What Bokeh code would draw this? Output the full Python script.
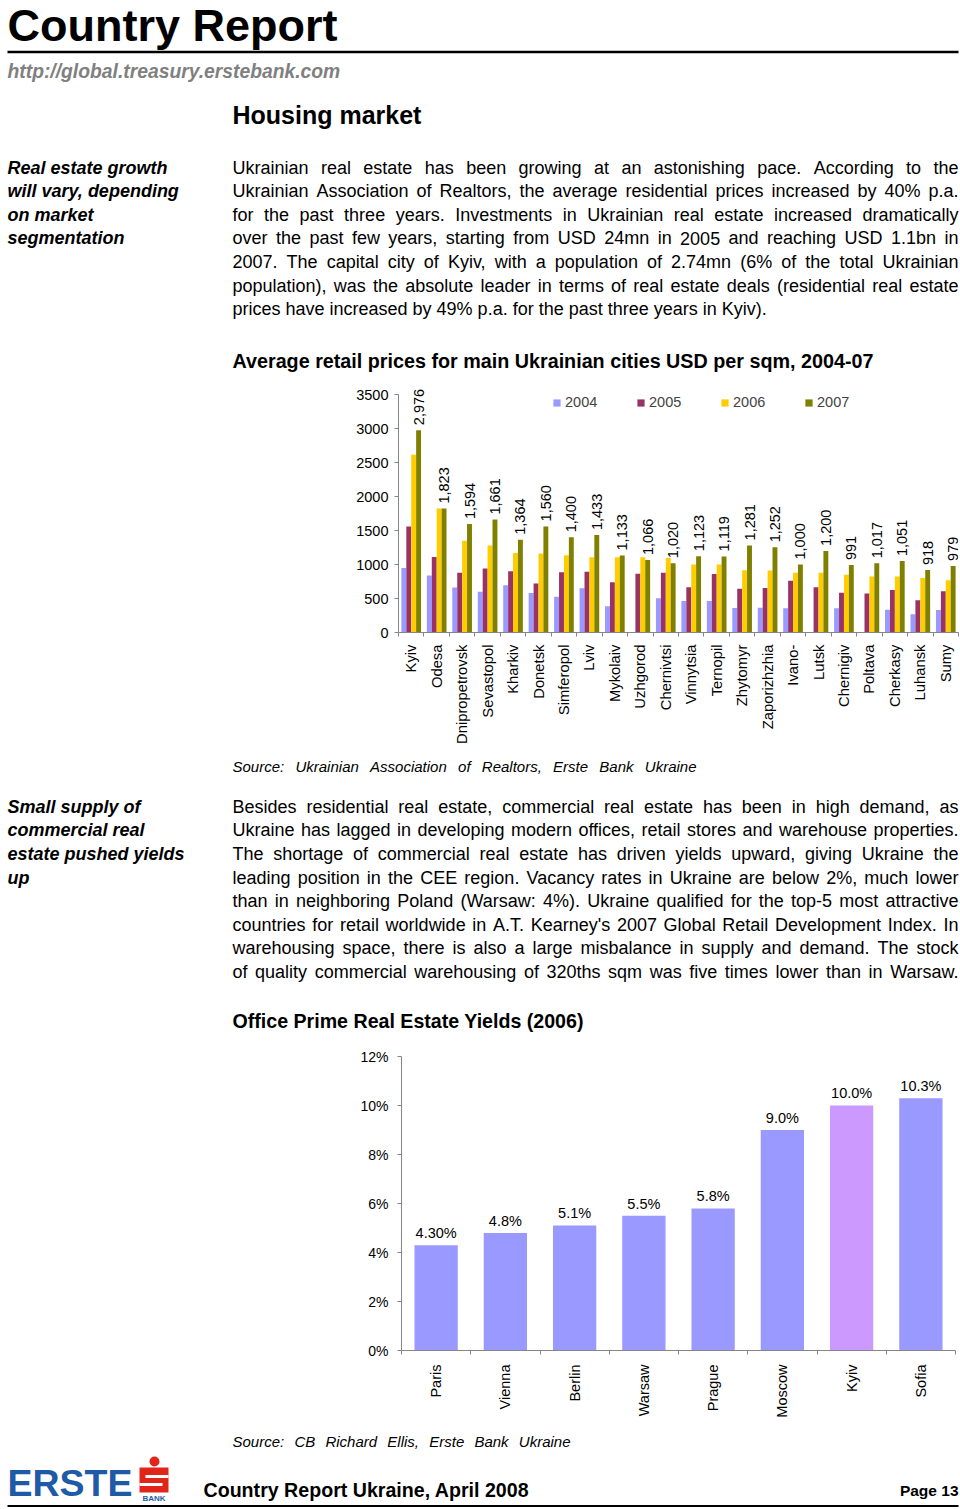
import math, os, glob
from bokeh.plotting import figure
from bokeh.models import ColumnDataSource, Range1d, FixedTicker, PrintfTickFormatter
from bokeh.layouts import column
from bokeh.core.properties import value
from bokeh.embed import file_html
from bokeh.resources import INLINE

# ---------------- DATA ----------------
cities = ["Kyiv", "Odesa", "Dnipropetrovsk", "Sevastopol", "Kharkiv", "Donetsk",
          "Simferopol", "Lviv", "Mykolaiv", "Uzhgorod", "Chernivtsi", "Vinnytsia",
          "Ternopil", "Zhytomyr", "Zaporizhzhia", "Ivano-", "Lutsk", "Chernigiv",
          "Poltava", "Cherkasy", "Luhansk", "Sumy"]
price_2004 = [950, 837, 660, 600, 695, 580, 525, 650, 385, 0, 504, 465,
              465, 360, 365, 355, 0, 355, 0, 335, 270, 330]
price_2005 = [1557, 1111, 880, 940, 900, 720, 885, 895, 740, 865, 880, 665,
              860, 645, 655, 760, 665, 585, 575, 625, 475, 605]
price_2006 = [2614, 1825, 1350, 1280, 1170, 1160, 1135, 1105, 1105, 1105, 1095, 1000,
              1000, 915, 910, 880, 880, 850, 825, 825, 800, 770]
price_2007 = [2976, 1823, 1594, 1661, 1364, 1560, 1400, 1433, 1133, 1066, 1020, 1123,
              1119, 1281, 1252, 1000, 1200, 991, 1017, 1051, 918, 979]
years = ["2004", "2005", "2006", "2007"]
price_ticks = [0, 500, 1000, 1500, 2000, 2500, 3000, 3500]

yield_cities = ["Paris", "Vienna", "Berlin", "Warsaw", "Prague", "Moscow", "Kyiv", "Sofia"]
yield_2006 = [4.3, 4.8, 5.1, 5.5, 5.8, 9.0, 10.0, 10.3]
yield_labels = ["4.30%", "4.8%", "5.1%", "5.5%", "5.8%", "9.0%", "10.0%", "10.3%"]
yield_ticks = [0, 2, 4, 6, 8, 10, 12]
highlight_city = "Kyiv"

page_title = "Country Report"
page_url = "http://global.treasury.erstebank.com"
section_title = "Housing market"
side1 = ["Real estate growth", "will vary, depending", "on market", "segmentation"]
para1 = [
    "Ukrainian real estate has been growing at an astonishing pace. According to the",
    "Ukrainian Association of Realtors, the average residential prices increased by 40% p.a.",
    "for the past three years. Investments in Ukrainian real estate increased dramatically",
    "over the past few years, starting from USD 24mn in 2005 and reaching USD 1.1bn in",
    "2007. The capital city of Kyiv, with a population of 2.74mn (6% of the total Ukrainian",
    "population), was the absolute leader in terms of real estate deals (residential real estate",
    "prices have increased by 49% p.a. for the past three years in Kyiv).",
]
chart1_title = "Average retail prices for main Ukrainian cities USD per sqm, 2004-07"
chart1_source = "Source: Ukrainian Association of Realtors, Erste Bank Ukraine"
side2 = ["Small supply of", "commercial real", "estate pushed yields", "up"]
para2 = [
    "Besides residential real estate, commercial real estate has been in high demand, as",
    "Ukraine has lagged in developing modern offices, retail stores and warehouse properties.",
    "The shortage of commercial real estate has driven yields upward, giving Ukraine the",
    "leading position in the CEE region. Vacancy rates in Ukraine are below 2%, much lower",
    "than in neighboring Poland (Warsaw: 4%). Ukraine qualified for the top-5 most attractive",
    "countries for retail worldwide in A.T. Kearney's 2007 Global Retail Development Index. In",
    "warehousing space, there is also a large misbalance in supply and demand. The stock",
    "of quality commercial warehousing of 320ths sqm was five times lower than in Warsaw.",
]
chart2_title = "Office Prime Real Estate Yields (2006)"
chart2_source = "Source: CB Richard Ellis, Erste Bank Ukraine"
footer_text = "Country Report Ukraine, April 2008"
page_label = "Page 13"
logo_word = "ERSTE"
logo_small = "BANK"

# ---------------- STYLE ----------------
FONT = "Liberation Sans"
YEAR_COLORS = {"2004": "#9999FF", "2005": "#993366", "2006": "#FFCC00", "2007": "#808000"}
BAR_COLOR = "#9999FF"
HIGHLIGHT_COLOR = "#CC99FF"
AXIS_COLOR = "#868686"
ERSTE_BLUE = "#1F5AA6"
ERSTE_RED = "#E1251B"
MID = 0.35  # distance from alphabetic baseline to 'middle', in em

PAGE_W = 960
X0, X1 = 0, 960
LEFT = 7
RIGHT = 958
TEXT_L = 232
S1 = (0, 380)
S2 = (380, 752)
S3 = (752, 1036)
S4 = (1036, 1430)
S5 = (1430, 1509)

# ---------------- font metrics ----------------
try:
    from PIL import ImageFont
except Exception:
    ImageFont = None

FONT_FILES = {"normal": "LiberationSans-Regular.ttf", "bold": "LiberationSans-Bold.ttf",
              "italic": "LiberationSans-Italic.ttf", "bold italic": "LiberationSans-BoldItalic.ttf"}
_fcache = {}


def _load(style):
    if style in _fcache:
        return _fcache[style]
    f = None
    if ImageFont is not None:
        for root in ["/usr/share/fonts", "/usr/local/share/fonts", os.path.expanduser("~/.fonts")]:
            hits = glob.glob(os.path.join(root, "**", FONT_FILES[style]), recursive=True)
            if hits:
                try:
                    f = ImageFont.truetype(hits[0], 100)
                except Exception:
                    f = None
                break
    _fcache[style] = f
    return f


def tw(s, size, style="normal"):
    f = _load(style)
    if f is not None:
        try:
            return f.getlength(s) * size / 100.0
        except Exception:
            pass
    return len(s) * size * (0.53 if "bold" in style else 0.49)


def fit_size(s, width, style, base=18.0):
    return base * width / tw(s, base, style)


def layout_line(line, x0, x1, y, size, style, justify=True, min_gap=2.5):
    words = line.split()
    ws = [tw(w, size, style) for w in words]
    n = len(words)
    total = sum(ws)
    sz = size
    if justify and n > 1:
        gap = (x1 - x0 - total) / (n - 1)
        if gap < min_gap:
            scale = (x1 - x0 - min_gap * (n - 1)) / total
            sz = size * scale
            ws = [w * scale for w in ws]
            gap = min_gap
    else:
        gap = tw(" ", size, style)
    xs = []
    x = x0
    for w in ws:
        xs.append(x)
        x += w + gap
    return words, xs, [y] * n, [sz] * n


def draw_text(p, xs, ys, texts, sizes, style="normal", color="black", align="left"):
    """ys are alphabetic baselines; drawn with a 'middle' anchor."""
    if not isinstance(sizes, (list, tuple)):
        sizes = [sizes] * len(texts)
    ym = [y - MID * s for y, s in zip(ys, sizes)]
    src = ColumnDataSource(dict(x=list(xs), y=ym, text=list(texts),
                                fs=["%.2fpx" % s for s in sizes]))
    p.text(x="x", y="y", text="text", source=src, text_font=value(FONT), text_font_size="fs",
           text_font_style=value(style), text_color=color, text_align=value(align),
           text_baseline=value("middle"))


def draw_paragraph(p, lines, y0, dy, size, justify_last):
    for i, line in enumerate(lines):
        just = justify_last or i < len(lines) - 1
        w, xs, ys, fs = layout_line(line, TEXT_L, RIGHT, y0 + i * dy, size, "normal", just)
        draw_text(p, xs, ys, w, fs)


def text_fig(sec):
    p = figure(width=PAGE_W, height=sec[1] - sec[0], x_range=Range1d(X0, X1),
               y_range=Range1d(sec[1], sec[0]), toolbar_location=None, output_backend="svg",
               x_axis_location=None, y_axis_location=None, min_border=0, title=None)
    p.frame_align = False
    p.outline_line_color = None
    p.xgrid.visible = False
    p.ygrid.visible = False
    p.background_fill_color = "white"
    p.border_fill_color = "white"
    return p


def style_axis(ax, size="14px"):
    ax.axis_line_color = AXIS_COLOR
    ax.major_tick_line_color = AXIS_COLOR
    ax.minor_tick_line_color = AXIS_COLOR
    ax.major_label_text_font = FONT
    ax.major_label_text_font_size = size
    ax.major_label_text_color = "black"


LINE_DY = 23.6

# ---------------- Section 1 : header + paragraph 1 ----------------
f1 = text_fig(S1)
draw_text(f1, [LEFT], [41], [page_title], 45, "bold")
f1.segment(x0=[LEFT], y0=[51.5], x1=[RIGHT], y1=[51.5], line_color="black", line_width=2.5)
draw_text(f1, [LEFT], [78], [page_url], fit_size(page_url, 333, "bold italic", 19),
          "bold italic", color="#808080")
draw_text(f1, [TEXT_L], [123], [section_title], fit_size(section_title, 189, "bold", 24), "bold")
draw_text(f1, [LEFT] * len(side1), [173.3 + i * LINE_DY for i in range(len(side1))], side1, 18, "bold italic")
draw_paragraph(f1, para1, 173.3, LINE_DY, 18, False)
draw_text(f1, [TEXT_L], [367], [chart1_title], fit_size(chart1_title, 641, "bold", 18), "bold")

# ---------------- Section 2 : chart 1 ----------------
C1_LEFT, C1_RIGHT, C1_FTOP, C1_ATOP, C1_BASE = 398, RIGHT, 382, 394, 632
n1 = len(cities)
ymax1 = price_ticks[-1] * (C1_BASE - C1_FTOP) / (C1_BASE - C1_ATOP)
c1 = figure(width=PAGE_W, height=S2[1] - S2[0], x_range=Range1d(0, n1), y_range=Range1d(0, ymax1),
            toolbar_location=None, output_backend="svg", title=None,
            min_border_left=C1_LEFT - X0, min_border_right=X1 - C1_RIGHT,
            min_border_top=C1_FTOP - S2[0], min_border_bottom=S2[1] - C1_BASE)
c1.frame_align = False
c1.outline_line_color = None
c1.xgrid.visible = False
c1.ygrid.visible = False
centers1 = [i + 0.5 for i in range(n1)]
bw1 = 0.193
series = [price_2004, price_2005, price_2006, price_2007]
for k, (yr, vals) in enumerate(zip(years, series)):
    off = (k - 1.5) * bw1
    src = ColumnDataSource(dict(x=[c + off for c in centers1], top=vals))
    c1.vbar(x="x", top="top", bottom=0, width=bw1, source=src, fill_color=YEAR_COLORS[yr],
            line_color=None, legend_label=yr)
ppu1 = (C1_BASE - C1_FTOP) / ymax1
lab1 = ColumnDataSource(dict(x=[c + 1.5 * bw1 for c in centers1],
                             y=[v + 5 / ppu1 for v in price_2007],
                             text=["{:,}".format(v) for v in price_2007]))
c1.text(x="x", y="y", text="text", source=lab1, angle=math.pi / 2, text_align=value("left"),
        text_baseline=value("middle"), text_font=value(FONT), text_font_size=value("14.5px"),
        text_color="black")
xa = c1.xaxis[0]
style_axis(xa, "14.8px")
xa.ticker = FixedTicker(ticks=centers1, minor_ticks=list(range(n1 + 1)))
xa.major_label_overrides = {c: name for c, name in zip(centers1, cities)}
xa.major_tick_out = 0
xa.major_tick_in = 0
xa.minor_tick_out = 4
xa.minor_tick_in = 0
xa.major_label_orientation = math.pi / 2
xa.major_label_standoff = 8
ya = c1.yaxis[0]
style_axis(ya, "14.5px")
ya.ticker = FixedTicker(ticks=price_ticks, minor_ticks=[])
ya.bounds = (price_ticks[0], price_ticks[-1])
ya.major_tick_out = 4
ya.major_tick_in = 0
ya.minor_tick_out = 0
ya.minor_tick_in = 0
ya.major_label_standoff = 6
lg = c1.legend[0]
lg.orientation = "horizontal"
lg.location = (154, 222)
lg.glyph_width = 9
lg.glyph_height = 9
lg.label_standoff = 4
lg.label_width = 71
lg.label_height = 9
lg.spacing = 0
lg.padding = 0
lg.margin = 0
lg.border_line_color = None
lg.background_fill_alpha = 0
lg.label_text_font = FONT
lg.label_text_font_size = "14.5px"

# ---------------- Section 3 : source + paragraph 2 ----------------
f3 = text_fig(S3)
w, xs, ys, fs = layout_line(chart1_source, TEXT_L, 696, 771, 15, "italic", True)
draw_text(f3, xs, ys, w, fs, "italic")
draw_text(f3, [LEFT] * len(side2), [812.5 + i * LINE_DY for i in range(len(side2))], side2, 18, "bold italic")
draw_paragraph(f3, para2, 812.5, LINE_DY, 18, True)
draw_text(f3, [TEXT_L], [1027], [chart2_title], fit_size(chart2_title, 351, "bold", 18), "bold")

# ---------------- Section 4 : chart 2 ----------------
C2_LEFT, C2_RIGHT, C2_FTOP, C2_ATOP, C2_BASE = 401, 955, 1040, 1056, 1350
n2 = len(yield_cities)
ymax2 = yield_ticks[-1] * (C2_BASE - C2_FTOP) / (C2_BASE - C2_ATOP)
c2 = figure(width=PAGE_W, height=S4[1] - S4[0], x_range=Range1d(0, n2), y_range=Range1d(0, ymax2),
            toolbar_location=None, output_backend="svg", title=None,
            min_border_left=C2_LEFT - X0, min_border_right=X1 - C2_RIGHT,
            min_border_top=C2_FTOP - S4[0], min_border_bottom=S4[1] - C2_BASE)
c2.frame_align = False
c2.outline_line_color = None
c2.xgrid.visible = False
c2.ygrid.visible = False
centers2 = [i + 0.5 for i in range(n2)]
colors2 = [HIGHLIGHT_COLOR if c == highlight_city else BAR_COLOR for c in yield_cities]
src2 = ColumnDataSource(dict(x=centers2, top=yield_2006, color=colors2))
c2.vbar(x="x", top="top", bottom=0, width=0.625, source=src2, fill_color="color", line_color=None)
ppu2 = (C2_BASE - C2_FTOP) / ymax2
lab2 = ColumnDataSource(dict(x=centers2, y=[v + (7 + MID * 14.5) / ppu2 for v in yield_2006],
                             text=yield_labels))
c2.text(x="x", y="y", text="text", source=lab2, text_align=value("center"),
        text_baseline=value("middle"), text_font=value(FONT), text_font_size=value("14.5px"),
        text_color="black")
xa2 = c2.xaxis[0]
style_axis(xa2, "14.5px")
xa2.ticker = FixedTicker(ticks=centers2, minor_ticks=list(range(n2 + 1)))
xa2.major_label_overrides = {c: name for c, name in zip(centers2, yield_cities)}
xa2.major_tick_out = 0
xa2.major_tick_in = 0
xa2.minor_tick_out = 4
xa2.minor_tick_in = 0
xa2.major_label_orientation = math.pi / 2
xa2.major_label_standoff = 10
ya2 = c2.yaxis[0]
style_axis(ya2, "14px")
ya2.ticker = FixedTicker(ticks=yield_ticks, minor_ticks=[])
ya2.formatter = PrintfTickFormatter(format="%d%%")
ya2.bounds = (yield_ticks[0], yield_ticks[-1])
ya2.major_tick_out = 4
ya2.major_tick_in = 0
ya2.minor_tick_out = 0
ya2.minor_tick_in = 0
ya2.major_label_standoff = 9

# ---------------- Section 5 : source + footer ----------------
f5 = text_fig(S5)
w, xs, ys, fs = layout_line(chart2_source, TEXT_L, 570, 1446, 15, "italic", True)
draw_text(f5, xs, ys, w, fs, "italic")
draw_text(f5, [LEFT], [1496], [logo_word], fit_size(logo_word, 125, "bold", 38), "bold", color=ERSTE_BLUE)
f5.circle(x=[154], y=[1461], radius=5, fill_color=ERSTE_RED, line_color=None)
f5.quad(left=[139], right=[168], top=[1467], bottom=[1492], fill_color=ERSTE_RED, line_color=None)
f5.quad(left=[145, 139], right=[168, 162], top=[1474.5, 1482.5], bottom=[1477.5, 1485.5],
        fill_color="white", line_color=None)
draw_text(f5, [153.5], [1501], [logo_small], 8, "bold", color=ERSTE_BLUE, align="center")
draw_text(f5, [203], [1496], [footer_text], fit_size(footer_text, 325, "bold", 20), "bold")
draw_text(f5, [RIGHT], [1495], [page_label], 15.5, "bold", align="right")
f5.segment(x0=[LEFT], y0=[1505.5], x1=[RIGHT], y1=[1505.5], line_color="black", line_width=2)

layout = column(f1, c1, f3, c2, f5, spacing=0)
open("out.html", "w").write(file_html(layout, INLINE))
